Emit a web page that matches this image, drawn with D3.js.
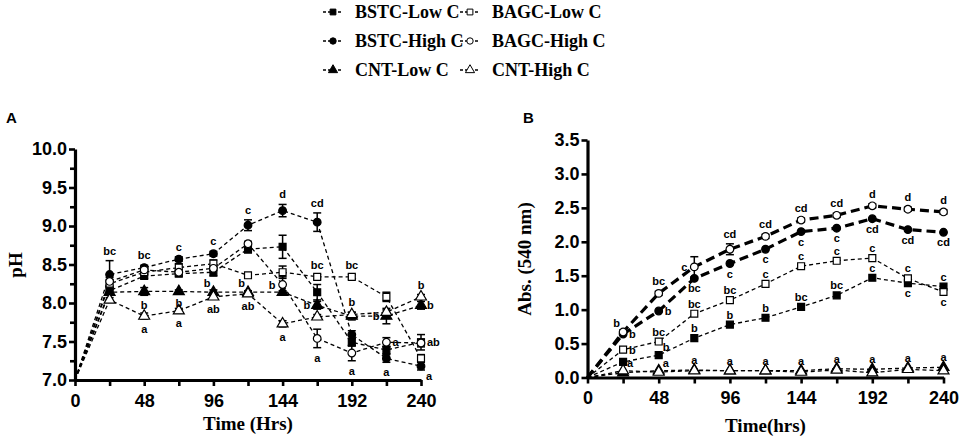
<!DOCTYPE html>
<html>
<head>
<meta charset="utf-8">
<script src="https://cdn.jsdelivr.net/npm/d3@7"></script>
<style>
body { margin: 0; background: #fff; }
svg { display: block; }
</style>
</head>
<body>
<svg width="964" height="443"></svg>
<script>
var hours = [0, 24, 48, 72, 96, 120, 144, 168, 192, 216, 240];
var hourLabels = [0, 48, 96, 144, 192, 240];
var seriesNames = ["BSTC-Low C", "BSTC-High C", "CNT-Low C", "BAGC-Low C", "BAGC-High C", "CNT-High C"];

// panel A - pH
var phBstcLow  = [7.0, 8.16, 8.35, 8.38, 8.40, 8.70, 8.73, 8.14, 7.49, 7.39, 7.49];
var phBstcHigh = [7.0, 8.37, 8.46, 8.57, 8.64, 9.01, 9.20, 9.05, 7.59, 7.28, 7.18];
var phCntLow   = [7.0, 8.14, 8.15, 8.15, 8.14, 8.14, 8.14, 7.97, 7.83, 7.83, 7.97];
var phBagcLow  = [7.0, 8.25, 8.40, 8.46, 8.51, 8.36, 8.40, 8.34, 8.34, 8.08, 7.28];
var phBagcHigh = [7.0, 8.28, 8.43, 8.40, 8.45, 8.77, 8.24, 7.54, 7.35, 7.49, 7.48];
var phCntHigh  = [7.0, 8.04, 7.83, 7.90, 8.08, 8.12, 7.73, 7.82, 7.85, 7.88, 8.08];

var phErrBstcLow  = [0, 0.05, 0.03, 0.03, 0.05, 0.05, 0.15, 0.10, 0.05, 0.05, 0.10];
var phErrBstcHigh = [0, 0.18, 0.03, 0.03, 0.03, 0.07, 0.08, 0.12, 0.05, 0.05, 0.05];
var phErrCntLow   = [0, 0.03, 0.05, 0.02, 0.03, 0.02, 0.02, 0.05, 0.05, 0.10, 0.05];
var phErrBagcLow  = [0, 0.05, 0.03, 0.05, 0.05, 0.03, 0.08, 0.03, 0.03, 0.06, 0.05];
var phErrBagcHigh = [0, 0.05, 0.03, 0.03, 0.03, 0.03, 0.10, 0.12, 0.10, 0.06, 0.05];
var phErrCntHigh  = [0, 0.03, 0.04, 0.03, 0.03, 0.03, 0.04, 0.03, 0.03, 0.03, 0.03];

// panel B - absorbance at 540 nm
var absBstcLow  = [0, 0.23, 0.33, 0.58, 0.78, 0.88, 1.04, 1.21, 1.47, 1.39, 1.34];
var absBstcHigh = [0, 0.64, 0.98, 1.46, 1.68, 1.89, 2.15, 2.20, 2.34, 2.18, 2.14];
var absCntLow   = [0, 0.07, 0.10, 0.11, 0.10, 0.10, 0.10, 0.13, 0.12, 0.14, 0.15];
var absBagcLow  = [0, 0.41, 0.53, 0.94, 1.14, 1.38, 1.64, 1.72, 1.76, 1.46, 1.26];
var absBagcHigh = [0, 0.67, 1.24, 1.63, 1.89, 2.08, 2.32, 2.39, 2.53, 2.48, 2.44];
var absCntHigh  = [0, 0.10, 0.08, 0.10, 0.10, 0.10, 0.08, 0.11, 0.07, 0.12, 0.10];

var absErrBagcHigh = [0, 0.03, 0.03, 0.15, 0.08, 0.03, 0.03, 0.03, 0.03, 0.03, 0.03];
var absErrZero     = [0, 0, 0, 0, 0, 0, 0, 0, 0, 0, 0];

var phTicks = [7.0, 7.5, 8.0, 8.5, 9.0, 9.5, 10.0];
var phMinorTicks = [7.25, 7.75, 8.25, 8.75, 9.25, 9.75];
var absTicks = [0, 0.5, 1.0, 1.5, 2.0, 2.5, 3.0, 3.5];

// significance letters: [series index, hour index, letter, side]
var lettersA = [
  [1,1,"bc","t"],[1,2,"bc","t"],[2,2,"b","b"],[5,2,"a","b"],
  [1,3,"c","t"],[2,3,"b","b"],[5,3,"a","b"],
  [1,4,"c","t"],[2,4,"b","tl"],[5,4,"ab","b"],
  [1,5,"c","t"],[2,5,"b","tl"],[5,5,"ab","b"],
  [1,6,"d","t"],[4,6,"b","l"],[5,6,"a","b"],
  [1,7,"cd","t"],[3,7,"bc","t"],[2,7,"b","l"],[4,7,"a","b"],
  [3,8,"bc","t"],[2,8,"b","t"],[4,8,"a","b"],
  [2,9,"b","l"],[4,9,"a","r"],[1,9,"a","b"],
  [5,10,"b","t"],[2,10,"b","r"],[0,10,"ab","r"],[1,10,"a","br"]
];
var lettersB = [
  [4,1,"b","tl"],[1,1,"b","r"],[3,1,"b","r"],[5,1,"a","tr"],
  [4,2,"bc","t"],[1,2,"b","r"],[3,2,"bc","t"],[0,2,"b","tr"],[2,2,"a","tr"],
  [4,3,"c","l"],[1,3,"bc","b"],[3,3,"bc","t"],[0,3,"b","t"],[2,3,"a","t"],
  [4,4,"cd","t"],[1,4,"c","b"],[3,4,"bc","t"],[0,4,"b","t"],[2,4,"a","t"],
  [4,5,"cd","t"],[1,5,"c","b"],[3,5,"c","t"],[0,5,"b","t"],[2,5,"a","t"],
  [4,6,"cd","t"],[1,6,"c","b"],[3,6,"c","t"],[0,6,"bc","t"],[2,6,"a","t"],
  [4,7,"cd","t"],[1,7,"c","b"],[3,7,"c","t"],[0,7,"bc","t"],[2,7,"a","t"],
  [4,8,"d","t"],[1,8,"cd","b"],[3,8,"c","t"],[0,8,"c","t"],[2,8,"a","t"],
  [4,9,"d","t"],[1,9,"cd","b"],[3,9,"c","t"],[0,9,"c","b"],[2,9,"a","t"],
  [4,10,"d","t"],[1,10,"cd","b"],[0,10,"c","t"],[3,10,"c","b"],[2,10,"a","t"]
];

var symbols = [d3.symbolSquare, d3.symbolCircle, d3.symbolTriangle, d3.symbolSquare, d3.symbolCircle, d3.symbolTriangle];
var symbolSizes = [48, 46, 52, 48, 46, 52];
var filled = [true, true, true, false, false, false];

var sans = "'Liberation Sans', Arial, sans-serif";
var serif = "'Liberation Serif', 'Times New Roman', serif";

var svg = d3.select("svg");

var drawPanel = function(opt)
{
    var x = d3.scaleLinear().domain([0, 240]).range([opt.left, opt.right]);
    var y = d3.scaleLinear().domain(opt.yDomain).range([opt.bottom, opt.top]);
    var g = svg.append("g");

    var line = d3.line()
        .x(function(d, i) { return x(hours[i]); })
        .y(function(d) { return y(d); });

    opt.series.forEach(function(s, k)
    {
        var thick = opt.thick.indexOf(k) >= 0;
        g.append("path")
            .datum(s.values)
            .attr("d", line)
            .attr("fill", "none")
            .attr("stroke", "#000")
            .attr("stroke-width", thick ? 3.2 : 1.3)
            .attr("stroke-dasharray", thick ? "9,5" : "4,3");
    });

    // error bars
    opt.series.forEach(function(s)
    {
        s.values.forEach(function(v, i)
        {
            var e = s.errs[i];
            if (!e) return;
            var cx = x(hours[i]);
            g.append("line").attr("x1", cx).attr("x2", cx)
                .attr("y1", y(v - e)).attr("y2", y(v + e))
                .attr("stroke", "#000").attr("stroke-width", 1.5);
            [v - e, v + e].forEach(function(w)
            {
                g.append("line").attr("x1", cx - 4).attr("x2", cx + 4)
                    .attr("y1", y(w)).attr("y2", y(w))
                    .attr("stroke", "#000").attr("stroke-width", 1.5);
            });
        });
    });

    // markers
    opt.series.forEach(function(s, k)
    {
        var sym = d3.symbol().type(symbols[k]).size(symbolSizes[k]);
        g.selectAll(null)
            .data(s.values.slice(1))
            .enter()
            .append("path")
            .attr("d", sym)
            .attr("transform", function(d, i) { return "translate(" + x(hours[i + 1]) + "," + y(d) + ")"; })
            .attr("fill", filled[k] ? "#000" : "#fff")
            .attr("stroke", "#000")
            .attr("stroke-width", 1.2);
    });

    // letters
    opt.letters.forEach(function(l)
    {
        var s = opt.series[l[0]];
        var v = s.values[l[1]], e = s.errs[l[1]] || 0;
        var px = x(hours[l[1]]), py = y(v);
        var tx = px, ty = py, anchor = "middle";
        if (l[3] == "t") { ty = y(v + e) - 6; }
        else if (l[3] == "b") { ty = y(v - e) + 14; }
        else if (l[3] == "l") { tx = px - 7; ty = py + 4; anchor = "end"; }
        else if (l[3] == "r") { tx = px + 6; ty = py + 4; anchor = "start"; }
        else if (l[3] == "tl") { tx = px - 3; ty = py - 5; anchor = "end"; }
        else if (l[3] == "tr") { tx = px + 4; ty = py - 4; anchor = "start"; }
        else if (l[3] == "br") { tx = px + 5; ty = py + 14; anchor = "start"; }
        g.append("text")
            .attr("x", tx).attr("y", ty)
            .attr("text-anchor", anchor)
            .style("font", "bold 11px " + sans)
            .text(l[2]);
    });

    // axes
    var xAxis = d3.axisBottom(x)
        .tickValues(hours)
        .tickSize(6)
        .tickSizeOuter(0)
        .tickPadding(8)
        .tickFormat(function(d) { return hourLabels.indexOf(d) >= 0 ? d : ""; });
    var yAxis = d3.axisLeft(y)
        .tickValues(opt.yTicks)
        .tickSize(6)
        .tickSizeOuter(0)
        .tickPadding(2)
        .tickFormat(d3.format(".1f"));

    var xg = g.append("g").attr("transform", "translate(0," + opt.bottom + ")").call(xAxis);
    var yg = g.append("g").attr("transform", "translate(" + opt.left + ",0)").call(yAxis);
    if (opt.yMinor)
    {
        g.append("g").attr("transform", "translate(" + opt.left + ",0)")
            .call(d3.axisLeft(y).tickValues(opt.yMinor).tickSize(5).tickSizeOuter(0).tickFormat(""))
            .select(".domain").remove();
    }
    g.selectAll(".domain").attr("stroke-width", 3.2).attr("stroke", "#000");
    g.selectAll(".tick line").attr("stroke-width", 2.6).attr("stroke", "#000");
    [xg, yg].forEach(function(a)
    {
        a.selectAll("text").style("font", "bold 18px " + sans).attr("fill", "#000");
    });

    // titles
    svg.append("text")
        .attr("x", (opt.left + opt.right) / 2).attr("y", opt.xTitleY)
        .attr("text-anchor", "middle")
        .style("font", "bold 19px " + serif)
        .text(opt.xTitle);
    svg.append("text")
        .attr("transform", "translate(" + opt.yTitleX + "," + opt.yTitleY + ") rotate(-90)")
        .attr("text-anchor", "middle")
        .style("font", "bold 19px " + serif)
        .text(opt.yTitle);
    svg.append("text")
        .attr("x", opt.letterX).attr("y", 123)
        .style("font", "bold 15px " + sans)
        .text(opt.letter);
};

drawPanel({
    left: 75, right: 421, top: 149, bottom: 380,
    yDomain: [7, 10], yTicks: phTicks, yMinor: phMinorTicks,
    series: [
        {values: phBstcLow, errs: phErrBstcLow},
        {values: phBstcHigh, errs: phErrBstcHigh},
        {values: phCntLow, errs: phErrCntLow},
        {values: phBagcLow, errs: phErrBagcLow},
        {values: phBagcHigh, errs: phErrBagcHigh},
        {values: phCntHigh, errs: phErrCntHigh}
    ],
    thick: [],
    letters: lettersA,
    xTitle: "Time (Hrs)", xTitleY: 430,
    yTitle: "pH", yTitleX: 22, yTitleY: 265,
    letter: "A", letterX: 6
});

drawPanel({
    left: 587.5, right: 943.5, top: 140, bottom: 377.5,
    yDomain: [0, 3.5], yTicks: absTicks, yMinor: null,
    series: [
        {values: absBstcLow, errs: absErrZero},
        {values: absBstcHigh, errs: absErrZero},
        {values: absCntLow, errs: absErrZero},
        {values: absBagcLow, errs: absErrZero},
        {values: absBagcHigh, errs: absErrBagcHigh},
        {values: absCntHigh, errs: absErrZero}
    ],
    thick: [1, 4],
    letters: lettersB,
    xTitle: "Time(hrs)", xTitleY: 432,
    yTitle: "Abs. (540 nm)", yTitleX: 531, yTitleY: 259,
    letter: "B", letterX: 523
});

// legend
var legend = svg.append("g");
var legendCols = [333, 470];
var legendRows = [12, 41, 70];
seriesNames.forEach(function(name, k)
{
    var cx = legendCols[Math.floor(k / 3)];
    var cy = legendRows[k % 3];
    legend.append("line")
        .attr("x1", cx - 10).attr("x2", cx + 10)
        .attr("y1", cy).attr("y2", cy)
        .attr("stroke", "#000").attr("stroke-width", 1.3)
        .attr("stroke-dasharray", "3,2");
    legend.append("path")
        .attr("d", d3.symbol().type(symbols[k]).size(symbolSizes[k] * 0.7))
        .attr("transform", "translate(" + cx + "," + cy + ")")
        .attr("fill", filled[k] ? "#000" : "#fff")
        .attr("stroke", "#000").attr("stroke-width", 1);
    legend.append("text")
        .attr("x", cx + 22).attr("y", cy + 6)
        .style("font", "bold 18px " + serif)
        .text(name);
});
</script>
</body>
</html>
